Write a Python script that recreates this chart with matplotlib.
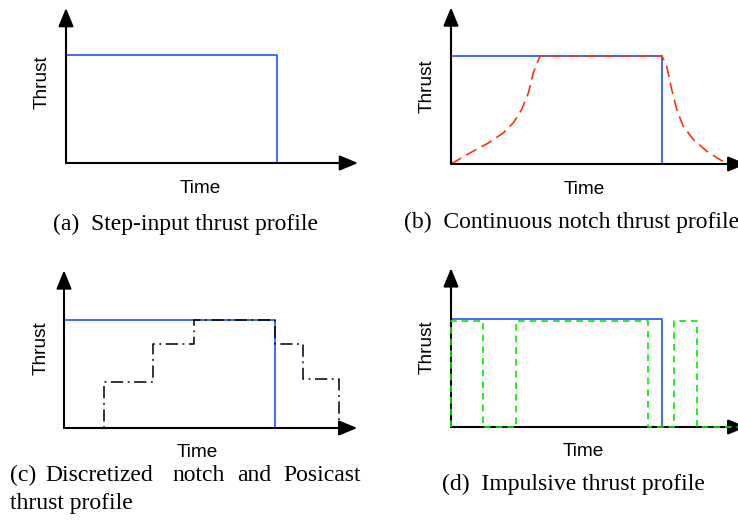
import matplotlib.pyplot as plt

W, H = 738, 527
SX, SY = 211, 108   # pixels per unit of time / thrust
XMAX, YMAX = 1.5, 1.5

# step input (blue) shared by all panels
step_t = [0, 1.0, 1.0]
step_f = [1.0, 1.0, 0]

# continuous notch (red dashed)
notch_t = [0, 0.09, 0.177, 0.248, 0.295, 0.335, 0.367, 0.39, 0.422, 1.0,
           1.022, 1.046, 1.07, 1.10, 1.149, 1.212, 1.275, 1.314]
notch_f = [0, 0.102, 0.195, 0.288, 0.381, 0.505, 0.659, 0.845, 1.0, 1.0,
           0.907, 0.69, 0.505, 0.35, 0.226, 0.118, 0.04, 0]

# discretized notch / posicast (black dash-dot)
posi_t = [0, 0.189, 0.189, 0.424, 0.424, 0.618, 0.618, 1.0, 1.0,
          1.134, 1.134, 1.304, 1.304]
posi_f = [0, 0, 0.43, 0.43, 0.778, 0.778, 1.0, 1.0, 0.778,
          0.778, 0.458, 0.458, 0]

# impulsive (green dashed)
imp_t = [0, 0, 0.153, 0.153, 0.306, 0.306, 0.932, 0.932, 1.057, 1.057,
         1.167, 1.167, 1.45]
imp_f = [0, 0.985, 0.985, 0, 0, 0.985, 0.985, 0, 0, 0.985,
         0.985, 0, 0]

BLUE = '#2050ff'
RED = '#ff3010'
GREEN = '#00ee00'

# panel layout: origin px, arrow tips, label positions
panels = {
    'a': dict(o=(66, 163), tip=(1.384, 1.435), time=(200, 193), thrust=(42, 82)),
    'b': dict(o=(451, 164), tip=(1.40, 1.45), time=(584, 194), thrust=(427, 86)),
    'c': dict(o=(64, 428), tip=(1.39, 1.46), time=(197, 457), thrust=(41, 348)),
    'd': dict(o=(451, 427), tip=(1.40, 1.47), time=(583, 456), thrust=(427, 347)),
}

fig = plt.figure(figsize=(W / 100, H / 100), dpi=100)


def fx(x):
    return x / W


def fy(y):
    return 1 - y / H


def make_panel(p):
    ox, oy = p['o']
    ax = fig.add_axes([fx(ox), fy(oy), XMAX * SX / W, YMAX * SY / H])
    ax.set_xlim(0, XMAX)
    ax.set_ylim(0, YMAX)
    ax.axis('off')
    tx, ty = p['tip']
    style = '-|>,head_length=0.8,head_width=0.33'
    for tip in [(tx, 0), (0, ty)]:
        ax.annotate('', xy=tip, xytext=(0, 0), annotation_clip=False,
                    arrowprops=dict(arrowstyle=style, mutation_scale=14,
                                    lw=1.5, color='k', shrinkA=0, shrinkB=0))
    fig.text(fx(p['time'][0]), fy(p['time'][1]), 'Time', ha='center',
             va='baseline', fontsize=13.7, family='Liberation Sans')
    fig.text(fx(p['thrust'][0]), fy(p['thrust'][1]), 'Thrust', ha='center',
             va='center', rotation=90, fontsize=13.7, family='Liberation Sans')
    return ax


ax = make_panel(panels['a'])
ax.plot(step_t, step_f, color=BLUE, lw=1.2, clip_on=False)

ax = make_panel(panels['b'])
ax.plot(step_t, step_f, color=BLUE, lw=1.2, clip_on=False)
ax.plot(notch_t, notch_f, color=RED, lw=1.2, ls=(0, (7, 3.5)), clip_on=False)

ax = make_panel(panels['c'])
ax.plot(step_t, step_f, color=BLUE, lw=1.2, clip_on=False)
ax.plot(posi_t, posi_f, color='k', lw=1.1, ls=(0, (8, 3, 1.2, 3)), clip_on=False)

ax = make_panel(panels['d'])
ax.plot(step_t, step_f, color=BLUE, lw=1.2, clip_on=False)
ax.plot(imp_t, imp_f, color=GREEN, lw=1.2, ls=(0, (4, 3)), clip_on=False, zorder=5)

cap = dict(fontsize=17, family='Liberation Serif', va='baseline')
fig.text(fx(53), fy(230), '(a)  Step-input thrust profile', **cap)
fig.text(fx(404), fy(228), '(b)  Continuous notch thrust profile', **cap)
fig.text(fx(442), fy(490), '(d)  Impulsive thrust profile', **cap)

# justified caption (c)
words_c = ['(c)', 'Discretized', 'notch', 'and', 'Posicast']
words_x = [10, 45, 172, 237, 283]
for w, x in zip(words_c, words_x):
    fig.text(fx(x), fy(481), w, **cap)
fig.text(fx(10), fy(509), 'thrust profile', **cap)

fig.savefig('out.png', dpi=100)
